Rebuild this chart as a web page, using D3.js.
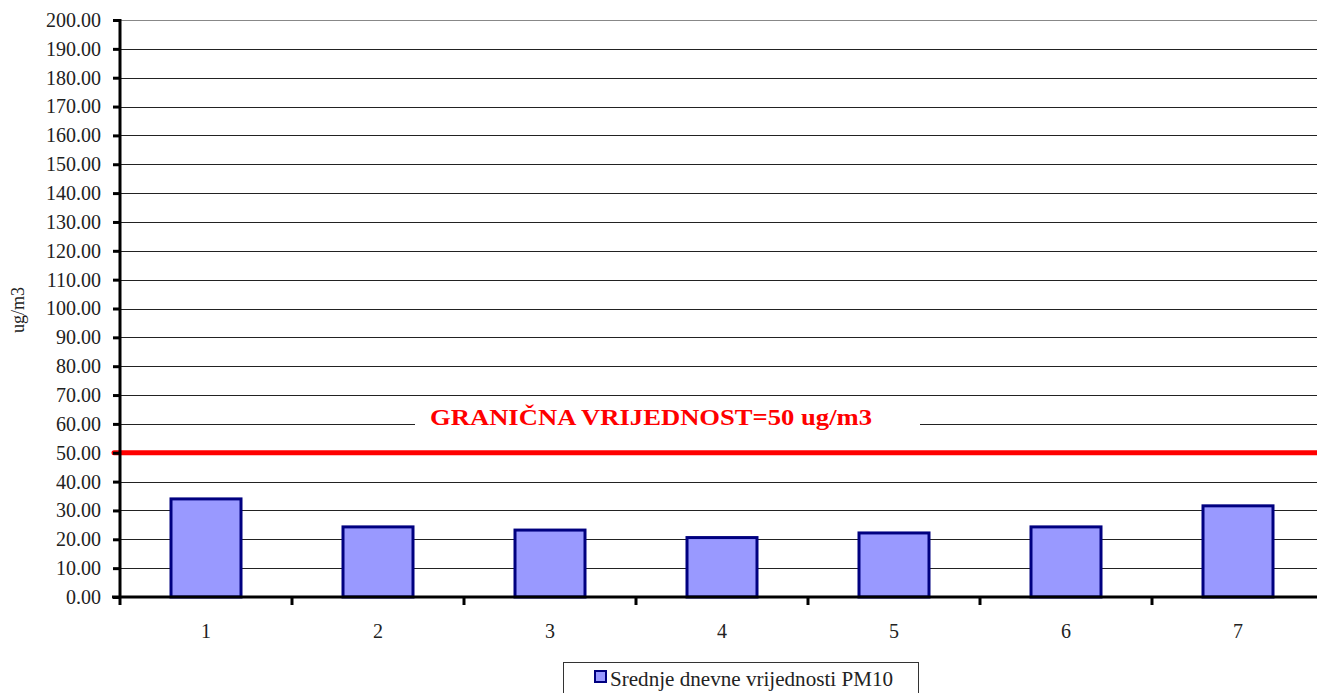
<!DOCTYPE html>
<html>
<head>
<meta charset="utf-8">
<script src="https://cdn.jsdelivr.net/npm/d3@7"></script>
<style>
body { margin: 0; background: #fff; }
svg { display: block; }
svg text { font-family: "Liberation Serif", "Times New Roman", serif; }
</style>
</head>
<body>
<svg width="1317" height="693"></svg>
<script>
var width = 1317;
var height = 693;

var days = ["1", "2", "3", "4", "5", "6", "7"];
var pm10 = [34.0, 24.3, 23.2, 20.6, 22.2, 24.3, 31.6];
var yTicks = d3.range(0, 201, 10);
var limit = 50;
var limitLabel = "GRANIČNA VRIJEDNOST=50 ug/m3";
var seriesName = "Srednje dnevne vrijednosti PM10";

// plot edges (right edge runs past the window like in the original)
var plotLeft = 120, plotTop = 20, plotBottom = 597, plotRight = 1324;

var svg = d3.select("svg");

var x = d3.scaleBand().domain(days).range([plotLeft, plotRight]);
var y = d3.scaleLinear().domain([0, 200]).range([plotBottom, plotTop]);

// grid lines
svg.append("g")
    .selectAll("line")
    .data(yTicks.filter(function(d) { return d > 0; }))
    .enter().append("line")
    .attr("x1", plotLeft).attr("x2", width)
    .attr("y1", function(d) { return Math.round(y(d)) + 0.5; })
    .attr("y2", function(d) { return Math.round(y(d)) + 0.5; })
    .attr("stroke", function(d) { return d == 200 ? "#888" : "#222"; })
    .attr("stroke-width", 1);

// limit label, white box hides the 60 gridline behind it
svg.append("rect")
    .attr("x", 415).attr("width", 920 - 415)
    .attr("y", y(60) - 12).attr("height", 24)
    .attr("fill", "#fff");
svg.append("text")
    .attr("x", 430)
    .attr("y", y(60) + 1)
    .attr("fill", "#ff0000")
    .attr("font-weight", "bold")
    .attr("font-size", "23px")
    .attr("textLength", 442)
    .attr("lengthAdjust", "spacingAndGlyphs")
    .text(limitLabel);

// bars
svg.append("g")
    .selectAll("rect")
    .data(pm10)
    .enter().append("rect")
    .attr("x", function(d, i) { return x(days[i]) + x.bandwidth() / 2 - 35; })
    .attr("width", 70)
    .attr("y", function(d) { return y(d); })
    .attr("height", function(d) { return y(0) - y(d); })
    .attr("fill", "#9999ff")
    .attr("stroke", "#000080")
    .attr("stroke-width", 3);

// limit line
svg.append("line")
    .attr("x1", 114).attr("x2", width + 5)
    .attr("y1", y(limit)).attr("y2", y(limit))
    .attr("stroke", "#ff0000")
    .attr("stroke-width", 5)
    .attr("stroke-linecap", "round");

// y axis
var yAxis = svg.append("g")
    .attr("transform", "translate(" + plotLeft + ",0)")
    .call(d3.axisLeft(y).tickValues(yTicks).tickSize(7).tickPadding(12).tickFormat(d3.format(".2f")));
yAxis.select(".domain").attr("stroke", "#000").attr("stroke-width", 3)
    .attr("d", "M0," + (plotTop - 1) + "V" + (plotBottom + 1));
yAxis.selectAll(".tick line").attr("stroke", "#000").attr("stroke-width", 3);
yAxis.selectAll(".tick text")
    .style("font-size", "20px")
    .attr("fill", "#222");

// x axis
var xAxis = svg.append("g")
    .attr("transform", "translate(0," + plotBottom + ")")
    .call(d3.axisBottom(x).tickSize(0).tickPadding(27));
xAxis.select(".domain").attr("stroke", "#000").attr("stroke-width", 3)
    .attr("d", "M" + (plotLeft - 8) + ",0H" + width);
xAxis.selectAll(".tick text")
    .style("font-size", "20px")
    .attr("fill", "#222");
svg.append("g")
    .selectAll("line")
    .data(days)
    .enter().append("line")
    .attr("x1", function(d) { return x(d); })
    .attr("x2", function(d) { return x(d); })
    .attr("y1", plotBottom).attr("y2", plotBottom + 8)
    .attr("stroke", "#000").attr("stroke-width", 3);

// y label
svg.append("text")
    .attr("transform", "translate(24,310) rotate(-90)")
    .attr("text-anchor", "middle")
    .style("font-size", "18px")
    .attr("fill", "#222")
    .text("ug/m3");

// legend
svg.append("rect")
    .attr("x", 563.5).attr("y", 662.5)
    .attr("width", 355).attr("height", 40)
    .attr("fill", "#fff").attr("stroke", "#333").attr("stroke-width", 1);
svg.append("rect")
    .attr("x", 595).attr("y", 671)
    .attr("width", 11).attr("height", 11)
    .attr("fill", "#9999ff").attr("stroke", "#000080").attr("stroke-width", 2);
svg.append("text")
    .attr("x", 610).attr("y", 686)
    .style("font-size", "20px")
    .attr("textLength", 283)
    .attr("lengthAdjust", "spacingAndGlyphs")
    .attr("fill", "#222")
    .text(seriesName);
</script>
</body>
</html>
